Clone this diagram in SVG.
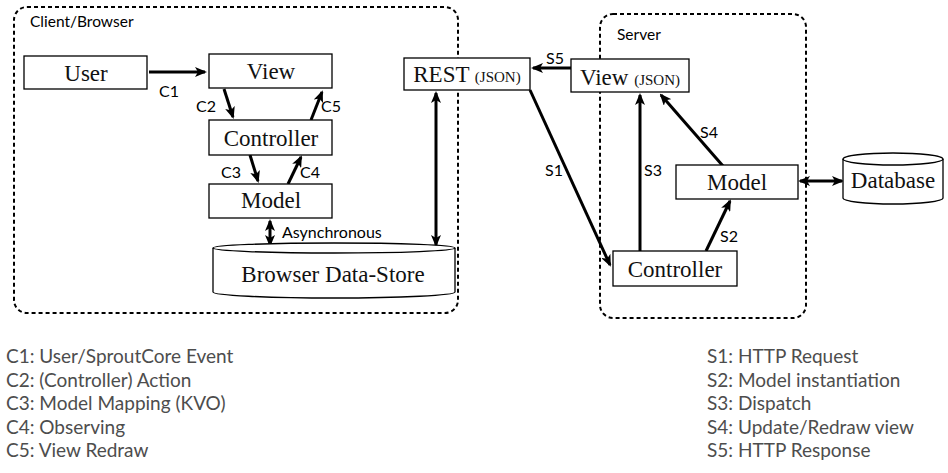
<svg xmlns="http://www.w3.org/2000/svg" width="948" height="473" viewBox="0 0 948 473">
<style>
.box{fill:#fff;stroke:#000;stroke-width:1.3}
.grp{fill:none;stroke:#000;stroke-width:2;stroke-dasharray:4 3}
.serif{font-family:"Liberation Serif","Times New Roman",serif;font-size:23px;fill:#111;text-anchor:middle}
.small{font-size:15px}
.lbl{font-family:Lato,"Liberation Sans",sans-serif;font-size:16px;fill:#000}
.leg{font-family:Lato,"Liberation Sans",sans-serif;font-size:19px;fill:#4d4d4d}
.arr{fill:none;stroke:#000;stroke-width:3}
.ln{fill:none;stroke:#000;stroke-width:1.3}
</style>
<defs>
<marker id="ah" viewBox="0 0 12 10" refX="10" refY="5" markerWidth="12" markerHeight="10" markerUnits="userSpaceOnUse" orient="auto-start-reverse">
<path d="M0,0 L12,5 L0,10 L3,5 z" fill="#000"/>
</marker>
</defs>

<g id="client-group">
<rect class="grp" x="14" y="7" width="444" height="306" rx="13"/>
<text class="lbl" x="30" y="27" style="font-size:15.5px">Client/Browser</text>
</g>
<g id="server-group">
<rect class="grp" x="600" y="14" width="206" height="304" rx="13"/>
<text class="lbl" x="617" y="40" style="font-size:15.5px">Server</text>
</g>

<g id="connectors">
<line class="arr" x1="149" y1="72" x2="205" y2="72" marker-end="url(#ah)"/>
<line class="arr" x1="224" y1="89" x2="233" y2="117" marker-end="url(#ah)"/>
<line class="arr" x1="311" y1="120" x2="322" y2="92" marker-end="url(#ah)"/>
<line class="arr" x1="250" y1="155" x2="258" y2="181" marker-end="url(#ah)"/>
<line class="arr" x1="288" y1="184" x2="301" y2="157" marker-end="url(#ah)"/>
<line class="arr" x1="270" y1="221" x2="270" y2="245" marker-start="url(#ah)" marker-end="url(#ah)"/>
<line class="arr" x1="436" y1="93" x2="436" y2="245" marker-start="url(#ah)" marker-end="url(#ah)"/>
<line class="arr" x1="571" y1="68" x2="533" y2="68" marker-end="url(#ah)"/>
<line class="arr" x1="530" y1="90" x2="610" y2="265" marker-end="url(#ah)"/>
<line class="arr" x1="640" y1="251" x2="640" y2="95" marker-end="url(#ah)"/>
<line class="arr" x1="723" y1="166" x2="661" y2="95" marker-end="url(#ah)"/>
<line class="arr" x1="706" y1="251" x2="730" y2="201" marker-end="url(#ah)"/>
<line class="arr" x1="800" y1="181" x2="842" y2="181" marker-start="url(#ah)" marker-end="url(#ah)"/>
<text class="lbl" x="159" y="97">C1</text>
<text class="lbl" x="196" y="112">C2</text>
<text class="lbl" x="321" y="112">C5</text>
<text class="lbl" x="221" y="178">C3</text>
<text class="lbl" x="300" y="178">C4</text>
<text class="lbl" x="282" y="238">Asynchronous</text>
<text class="lbl" x="546" y="64">S5</text>
<text class="lbl" x="545" y="176">S1</text>
<text class="lbl" x="644" y="176">S3</text>
<text class="lbl" x="700" y="138">S4</text>
<text class="lbl" x="720" y="242">S2</text>
</g>

<g id="user">
<rect class="box" x="24" y="56" width="123" height="33"/>
<text class="serif" x="86" y="81">User</text>
</g>
<g id="view">
<rect class="box" x="209" y="54" width="123" height="34"/>
<text class="serif" x="271" y="79">View</text>
</g>
<g id="controller">
<rect class="box" x="209" y="120" width="123" height="35"/>
<text class="serif" x="271" y="146">Controller</text>
</g>
<g id="model">
<rect class="box" x="209" y="184" width="123" height="34"/>
<text class="serif" x="271" y="208">Model</text>
</g>
<g id="browser-data-store">
<path class="box" d="M213,248 A121,5 0 0 1 455,248 L455,292 A121,6 0 0 1 213,292 Z"/>
<path class="ln" d="M213,248 A121,5 0 0 0 455,248"/>
<text class="serif" x="333" y="282">Browser Data-Store</text>
</g>
<g id="rest">
<rect class="box" x="404" y="58" width="126" height="32"/>
<text class="serif" x="467" y="82">REST <tspan class="small">(JSON)</tspan></text>
</g>
<g id="view-json">
<rect class="box" x="571" y="59" width="118" height="33"/>
<text class="serif" x="630" y="85">View <tspan class="small">(JSON)</tspan></text>
</g>
<g id="server-model">
<rect class="box" x="676" y="165" width="122" height="34"/>
<text class="serif" x="737" y="190">Model</text>
</g>
<g id="server-controller">
<rect class="box" x="613" y="251" width="124" height="35"/>
<text class="serif" x="675" y="277">Controller</text>
</g>
<g id="database">
<path class="box" d="M843,159 A50,6 0 0 1 943,159 L943,198 A50,6 0 0 1 843,198 Z"/>
<path class="ln" d="M843,159 A50,6 0 0 0 943,159"/>
<text class="serif" x="893" y="188">Database</text>
</g>

<g id="legend-client">
<text class="leg" x="6" y="363">C1: User/SproutCore Event</text>
<text class="leg" x="6" y="386.5">C2: (Controller) Action</text>
<text class="leg" x="6" y="410">C3: Model Mapping (KVO)</text>
<text class="leg" x="6" y="433.5">C4: Observing</text>
<text class="leg" x="6" y="457">C5: View Redraw</text>
</g>
<g id="legend-server">
<text class="leg" x="707" y="363">S1: HTTP Request</text>
<text class="leg" x="707" y="386.5">S2: Model instantiation</text>
<text class="leg" x="707" y="410">S3: Dispatch</text>
<text class="leg" x="707" y="433.5">S4: Update/Redraw view</text>
<text class="leg" x="707" y="457">S5: HTTP Response</text>
</g>
</svg>
